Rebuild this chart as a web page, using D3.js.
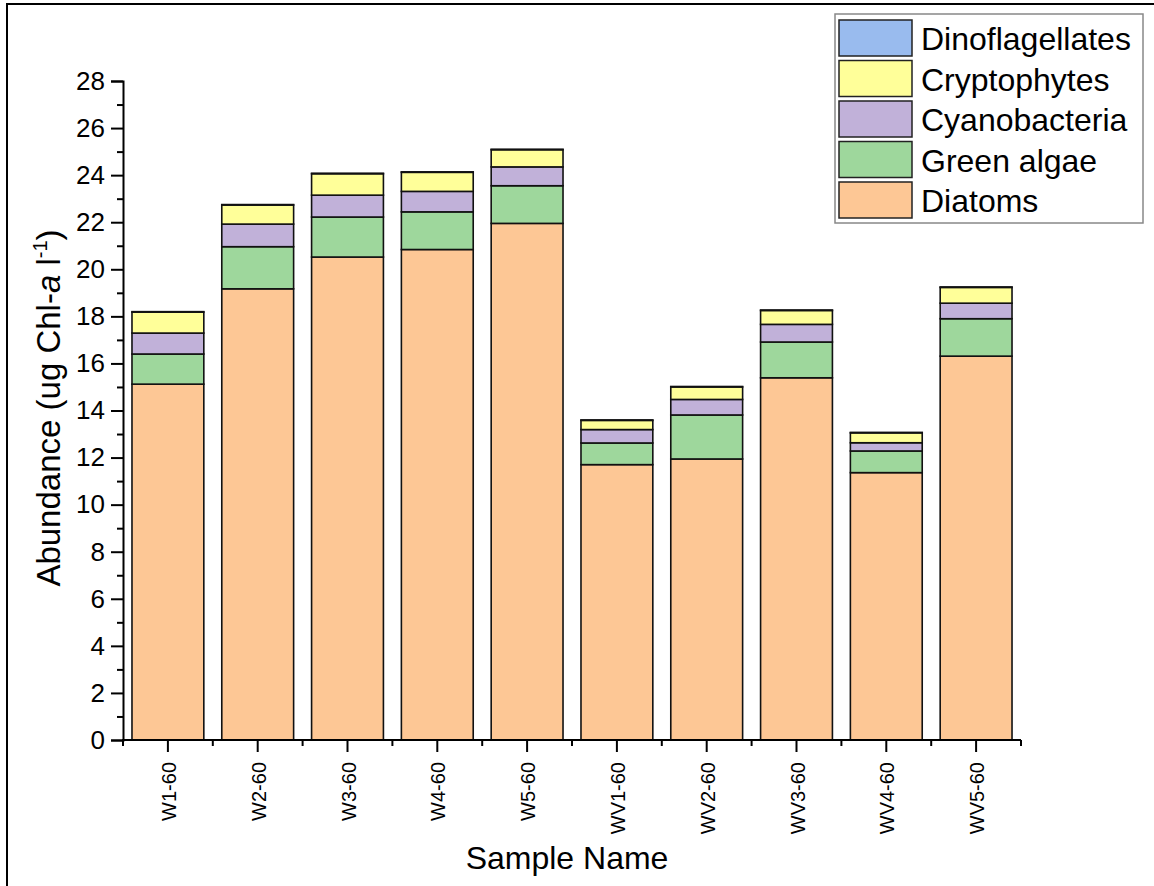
<!DOCTYPE html>
<html>
<head>
<meta charset="utf-8">
<script src="https://cdn.jsdelivr.net/npm/d3@7"></script>
<style>
  body { margin: 0; background: #fff; }
  svg { display: block; font-family: Arial, "Liberation Sans", sans-serif; }
</style>
</head>
<body>
<div id="chart"></div>
<script>
// data (ug Chl-a per litre)
const samples = ["W1-60", "W2-60", "W3-60", "W4-60", "W5-60", "WV1-60", "WV2-60", "WV3-60", "WV4-60", "WV5-60"];
const diatoms = [15.12, 19.17, 20.52, 20.84, 21.95, 11.70, 11.94, 15.39, 11.36, 16.31];
const greenAlgae = [1.28, 1.79, 1.70, 1.60, 1.60, 0.92, 1.87, 1.52, 0.92, 1.59];
const cyanobacteria = [0.89, 0.96, 0.93, 0.87, 0.80, 0.57, 0.66, 0.75, 0.35, 0.66];
const cryptophytes = [0.89, 0.81, 0.91, 0.81, 0.73, 0.39, 0.53, 0.59, 0.42, 0.67];
const dinoflagellates = [0.02, 0.02, 0.02, 0.02, 0.02, 0.02, 0.02, 0.02, 0.02, 0.02];
const seriesNames = ["Diatoms", "Green algae", "Cyanobacteria", "Cryptophytes", "Dinoflagellates"];
const seriesColors = ["#fdc795", "#9ed79c", "#c1b1d9", "#ffff99", "#99bbee"];
const yTicks = d3.range(0, 29, 2);

const width = 1154, height = 886;
const x0 = 123, x1 = 1021, yTop = 81, yBot = 740;

const svg = d3.select("#chart").append("svg")
  .attr("width", width)
  .attr("height", height);

// outer frame (only left and top edges fall inside the picture)
svg.append("rect")
  .attr("x", 7).attr("y", 4)
  .attr("width", 1200).attr("height", 950)
  .attr("fill", "none").attr("stroke", "#000").attr("stroke-width", 2);

const rows = samples.map((s, i) => ({
  sample: s,
  "Diatoms": diatoms[i],
  "Green algae": greenAlgae[i],
  "Cyanobacteria": cyanobacteria[i],
  "Cryptophytes": cryptophytes[i],
  "Dinoflagellates": dinoflagellates[i]
}));

const stacked = d3.stack().keys(seriesNames)(rows);

const x = d3.scaleBand().domain(samples).range([x0, x1]).paddingInner(0.2).paddingOuter(0.1);
const y = d3.scaleLinear().domain([0, 28]).range([yBot, yTop]);
const color = d3.scaleOrdinal().domain(seriesNames).range(seriesColors);

// bars
svg.append("g")
  .selectAll("g")
  .data(stacked)
  .join("g")
  .attr("fill", d => color(d.key))
  .selectAll("rect")
  .data(d => d)
  .join("rect")
  .attr("x", d => x(d.data.sample))
  .attr("y", d => y(d[1]))
  .attr("width", x.bandwidth())
  .attr("height", d => y(d[0]) - y(d[1]))
  .attr("stroke", "#111")
  .attr("stroke-width", 1.6);

// y axis
const yAxis = svg.append("g").attr("transform", `translate(${x0},0)`);
yAxis.call(d3.axisLeft(y).tickValues(yTicks).tickSize(12).tickPadding(6).tickFormat(d3.format("d")));
yAxis.append("g").call(d3.axisLeft(y).tickValues(d3.range(1, 28, 2)).tickSize(6).tickFormat(""));
yAxis.selectAll(".domain").attr("stroke-width", 2);
yAxis.selectAll(".tick line").attr("stroke-width", 2);
yAxis.selectAll("text").attr("font-size", 26).attr("fill", "#000").attr("font-family", "Arial, 'Liberation Sans', sans-serif");
yAxis.selectAll("path.domain").filter((d, i, n) => n[i].parentNode !== yAxis.node()).remove();

// x axis
const xAxis = svg.append("g").attr("transform", `translate(0,${yBot})`);
xAxis.append("line")
  .attr("x1", x0 - 1).attr("x2", x1)
  .attr("stroke", "#000").attr("stroke-width", 2);
xAxis.selectAll("line.major")
  .data(samples)
  .join("line")
  .attr("class", "major")
  .attr("x1", d => x(d) + x.bandwidth() / 2)
  .attr("x2", d => x(d) + x.bandwidth() / 2)
  .attr("y2", 12)
  .attr("stroke", "#000").attr("stroke-width", 2);
xAxis.selectAll("line.minor")
  .data(d3.range(samples.length + 1))
  .join("line")
  .attr("class", "minor")
  .attr("x1", i => x0 + i * x.step())
  .attr("x2", i => x0 + i * x.step())
  .attr("y2", 6)
  .attr("stroke", "#000").attr("stroke-width", 2);
xAxis.selectAll("text")
  .data(samples)
  .join("text")
  .attr("transform", d => `translate(${x(d) + x.bandwidth() / 2 + 8},22) rotate(-90)`)
  .attr("text-anchor", "end")
  .attr("font-size", 20)
  .text(d => d);

// axis titles
svg.append("text")
  .attr("x", 567).attr("y", 869)
  .attr("text-anchor", "middle")
  .attr("font-size", 32)
  .text("Sample Name");

const yTitle = svg.append("text")
  .attr("transform", "translate(60,408) rotate(-90)")
  .attr("text-anchor", "middle")
  .attr("font-size", 33);
yTitle.append("tspan").text("Abundance (ug Chl-");
yTitle.append("tspan").attr("font-style", "italic").text("a");
yTitle.append("tspan").text(" l");
yTitle.append("tspan").attr("font-size", 20).attr("dy", -13).text("-1");
yTitle.append("tspan").attr("dy", 13).text(")");

// legend
const legend = svg.append("g").attr("transform", "translate(835,14)");
legend.append("rect")
  .attr("width", 308).attr("height", 209)
  .attr("fill", "#fff").attr("stroke", "#888").attr("stroke-width", 1.5);
const legendItems = seriesNames.slice().reverse();
const item = legend.selectAll("g.item")
  .data(legendItems)
  .join("g")
  .attr("class", "item")
  .attr("transform", (d, i) => `translate(4,${6 + i * 40.5})`);
item.append("rect")
  .attr("width", 73).attr("height", 36)
  .attr("fill", d => color(d))
  .attr("stroke", "#222").attr("stroke-width", 1.5);
item.append("text")
  .attr("x", 82).attr("y", 30)
  .attr("font-size", 32)
  .text(d => d);
</script>
</body>
</html>
